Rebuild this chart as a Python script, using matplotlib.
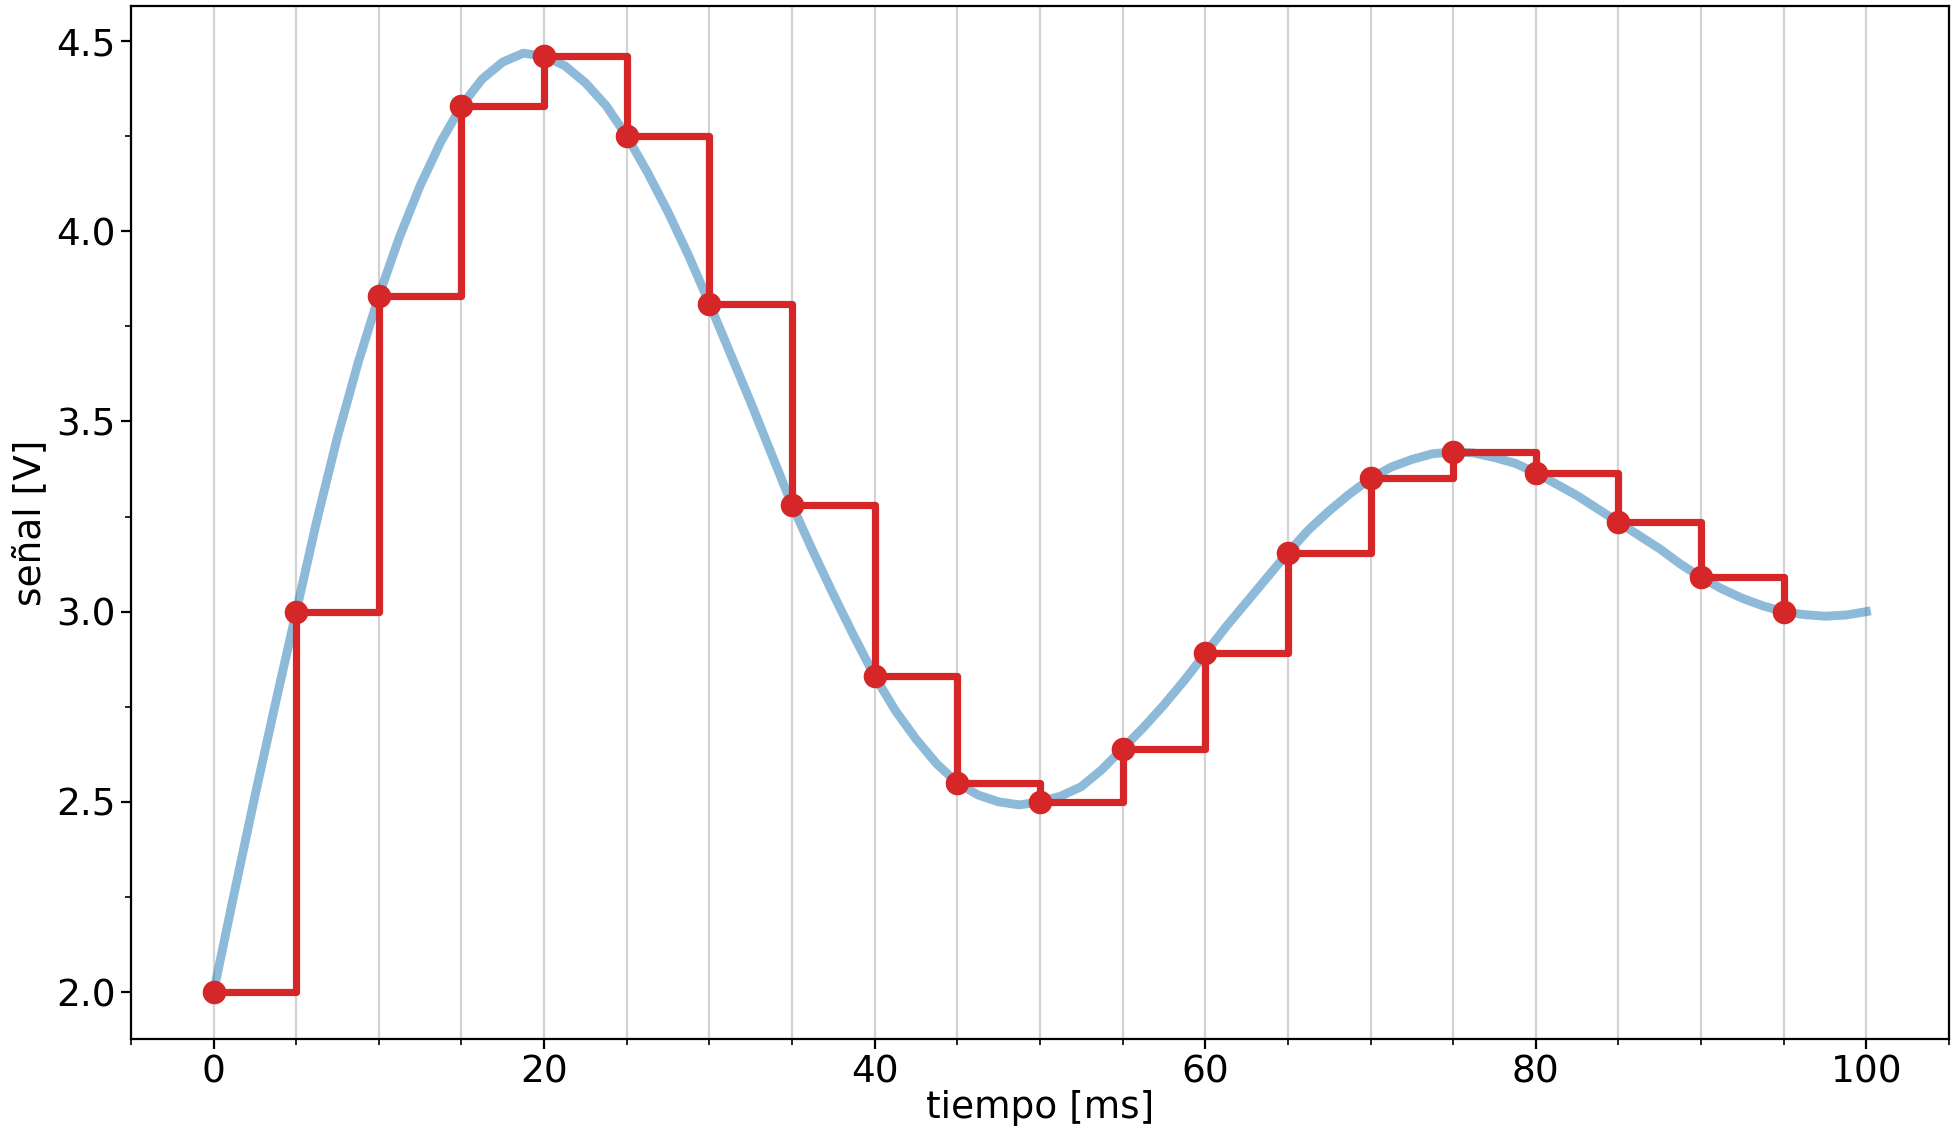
import numpy as np
import matplotlib.pyplot as plt
from matplotlib.ticker import MultipleLocator

# continuous signal, every 1.25 ms (0 ... 100 ms)
t_cont = np.linspace(0, 100, 81)
v_cont = [2.00, 2.26, 2.515, 2.76, 3.00, 3.24, 3.46, 3.655, 3.83, 3.985,
          4.12, 4.235, 4.33, 4.40, 4.445, 4.468, 4.46, 4.435, 4.39, 4.33,
          4.25, 4.155, 4.05, 3.935, 3.81, 3.68, 3.55, 3.415, 3.28, 3.16,
          3.045, 2.935, 2.83, 2.74, 2.665, 2.60, 2.55, 2.518, 2.50, 2.492,
          2.50, 2.515, 2.54, 2.585, 2.64, 2.695, 2.755, 2.82, 2.89, 2.96,
          3.025, 3.09, 3.155, 3.215, 3.265, 3.31, 3.35, 3.38, 3.40, 3.415,
          3.42, 3.417, 3.405, 3.39, 3.365, 3.335, 3.305, 3.27, 3.235, 3.20,
          3.165, 3.125, 3.09, 3.06, 3.035, 3.015, 3.00, 2.992, 2.988, 2.991,
          3.00]

# sampled values (every 5 ms), zero-order hold
t_samp = [0, 5, 10, 15, 20, 25, 30, 35, 40, 45, 50, 55, 60, 65, 70, 75, 80, 85, 90, 95]
v_samp = [2.00, 3.00, 3.83, 4.33, 4.46, 4.25, 3.81, 3.28, 2.83, 2.55, 2.50,
          2.64, 2.89, 3.155, 3.35, 3.42, 3.365, 3.235, 3.09, 3.00]

fig = plt.figure(figsize=(9.8, 5.68), dpi=200)
ax = fig.add_subplot(111)
fig.subplots_adjust(left=0.0668, right=0.9944, top=0.9945, bottom=0.0854)

ax.plot(t_cont, v_cont, color='tab:blue', alpha=0.5, lw=3.2)
ax.step(t_samp, v_samp, where='post', color='tab:red', lw=2.6, marker='o', ms=7.5)

ax.xaxis.set_minor_locator(MultipleLocator(5))
ax.yaxis.set_minor_locator(MultipleLocator(0.25))
ax.set_yticks([2.0, 2.5, 3.0, 3.5, 4.0, 4.5])
ax.grid(axis='x', which='both', color='lightgray', lw=0.8)
ax.set_axisbelow(True)

ax.tick_params(labelsize=13.5, pad=2)
ax.set_xlabel('tiempo [ms]', fontsize=13.5, labelpad=0)
ax.set_ylabel('señal [V]', fontsize=13.5, labelpad=3)

fig.savefig('out.png', dpi=200)
